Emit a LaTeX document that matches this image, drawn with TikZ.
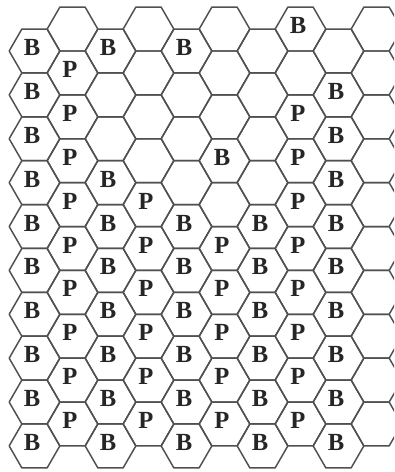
\documentclass[tikz,border=0pt]{standalone}
\usepackage{fontspec}
\setmainfont{Liberation Serif}
\usetikzlibrary{positioning}
\definecolor{cellgray}{RGB}{80,80,80}

\begin{document}
\begin{tikzpicture}[x=0.025cm,y=-0.025cm,
  cell/.style={draw=cellgray, line width=1.05pt, line join=round},
  tag/.style={font=\fontsize{17.5}{17.5}\selectfont\bfseries, inner sep=0pt, text=black!85}]
\clip (0,0) rectangle (394,472);
% hexagon grid, odd columns shifted up by half a cell
\foreach \c in {0,...,9}{
  \foreach \r in {0,...,9}{
    \pgfmathsetmacro{\cx}{34.5+38*\c}
    \pgfmathsetmacro{\cy}{51+43.88*\r-21.94*mod(\c,2)}
    \draw[cell] (\cx+25.33,\cy) -- ++(120:25.33) -- ++(180:25.33) -- ++(240:25.33)
      -- ++(300:25.33) -- ++(0:25.33) -- cycle;
  }
}
% letters: column/rows/letter
\foreach \c/\rows/\t in {%
  0/{0,...,9}/B,%
  1/{1,...,9}/P,%
  2/{0,3,4,5,6,7,8,9}/B,%
  3/{4,...,9}/P,%
  4/{0,4,5,6,7,8,9}/B,%
  5/{3}/B,%
  5/{5,...,9}/P,%
  6/{4,...,9}/B,%
  7/{0}/B,%
  7/{2,...,9}/P,%
  8/{1,...,9}/B%
}{
  \foreach \r in \rows{
    \pgfmathsetmacro{\cx}{34.5+38*\c}
    \pgfmathsetmacro{\cy}{51+43.88*\r-21.94*mod(\c,2)}
    \node[tag] (lbl-\c-\r) at (\cx-2.5,\cy-3.5) {\t};
  }
}
\end{tikzpicture}
\end{document}
